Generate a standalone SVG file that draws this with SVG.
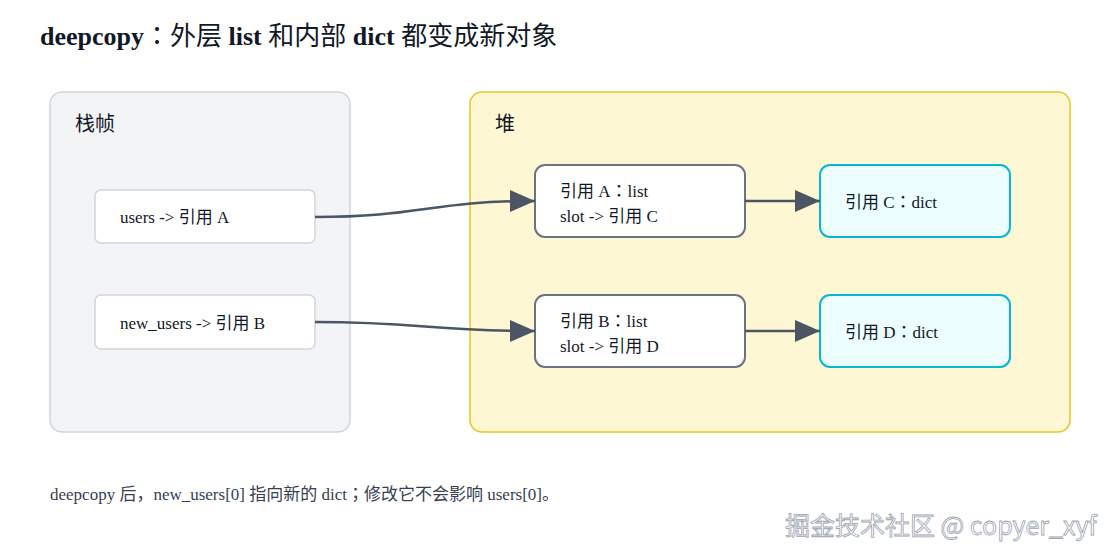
<svg xmlns="http://www.w3.org/2000/svg" width="1120" height="560" viewBox="0 0 1120 560">
<style>
.t{font-family:"Liberation Serif","Noto Sans CJK SC",serif;fill:#111827}
.p{font-family:"Noto Sans CJK TC",sans-serif}
.title{font-size:26px;font-weight:bold}
.cj{font-weight:normal}
.lbl{font-size:20px}
.n{font-size:17px}
.foot{font-size:17px;fill:#374151}
.stk{fill:#ffffff;stroke:#d1d5db;stroke-width:1.5}
.lst{fill:#ffffff;stroke:#6b7280;stroke-width:2}
.dct{fill:#ecfeff;stroke:#06b6d4;stroke-width:2}
.edge{fill:none;stroke:#4b5563;stroke-width:2.5}
.wm{font-family:"Noto Sans CJK SC","Noto Sans",sans-serif;font-size:25px;fill:#ffffff;stroke:#9ca3af;stroke-width:0.8}
</style>
<defs>
<marker id="arr" markerUnits="userSpaceOnUse" markerWidth="26" markerHeight="22" refX="25" refY="11" orient="auto">
<path d="M0,0 L25,11 L0,22 z" fill="#4b5563"/>
</marker>
</defs>
<rect width="1120" height="560" fill="#ffffff"/>
<text class="t title" x="40" y="45">deepcopy<tspan class="cj"><tspan class="p">：</tspan>外层 </tspan>list<tspan class="cj"> 和内部 </tspan>dict<tspan class="cj"> 都变成新对象</tspan></text>

<g id="stack">
<rect x="50" y="92" width="300" height="340" rx="12" fill="#f3f4f6" stroke="#d1d5db" stroke-width="1.5"/>
<text class="t lbl" x="75" y="131">栈帧</text>
</g>
<g id="heap">
<rect x="470" y="92" width="600" height="340" rx="12" fill="#fef7d4" stroke="#eac51f" stroke-width="1.5"/>
<text class="t lbl" x="495" y="131">堆</text>
</g>

<g id="users">
<rect class="stk" x="95" y="190" width="220" height="53" rx="6"/>
<text class="t n" x="120" y="223">users -&gt; 引用 A</text>
</g>
<g id="new_users">
<rect class="stk" x="95" y="295" width="220" height="54" rx="6"/>
<text class="t n" x="120" y="329">new_users -&gt; 引用 B</text>
</g>
<g id="listA">
<rect class="lst" x="535" y="165" width="210" height="72" rx="10"/>
<text class="t n" x="560" y="197">引用 A<tspan class="p">：</tspan>list</text>
<text class="t n" x="560" y="222">slot -&gt; 引用 C</text>
</g>
<g id="listB">
<rect class="lst" x="535" y="295" width="210" height="72" rx="10"/>
<text class="t n" x="560" y="327">引用 B<tspan class="p">：</tspan>list</text>
<text class="t n" x="560" y="352">slot -&gt; 引用 D</text>
</g>
<g id="dictC">
<rect class="dct" x="820" y="165" width="190" height="72" rx="10"/>
<text class="t n" x="845" y="208">引用 C<tspan class="p">：</tspan>dict</text>
</g>
<g id="dictD">
<rect class="dct" x="820" y="295" width="190" height="72" rx="10"/>
<text class="t n" x="845" y="338">引用 D<tspan class="p">：</tspan>dict</text>
</g>

<g id="connectors">
<path class="edge" d="M315,217 C420,217 430,201 535,201" marker-end="url(#arr)"/>
<path class="edge" d="M315,322 C420,322 430,331 535,331" marker-end="url(#arr)"/>
<path class="edge" d="M745,201 L820,201" marker-end="url(#arr)"/>
<path class="edge" d="M745,331 L820,331" marker-end="url(#arr)"/>
</g>

<text class="t foot" x="50" y="500">deepcopy 后，new_users[0] 指向新的 dict<tspan class="p">；</tspan>修改它不会影响 users[0]。</text>
<text class="wm" x="785" y="535">掘金技术社区 @ copyer_xyf</text>
</svg>
